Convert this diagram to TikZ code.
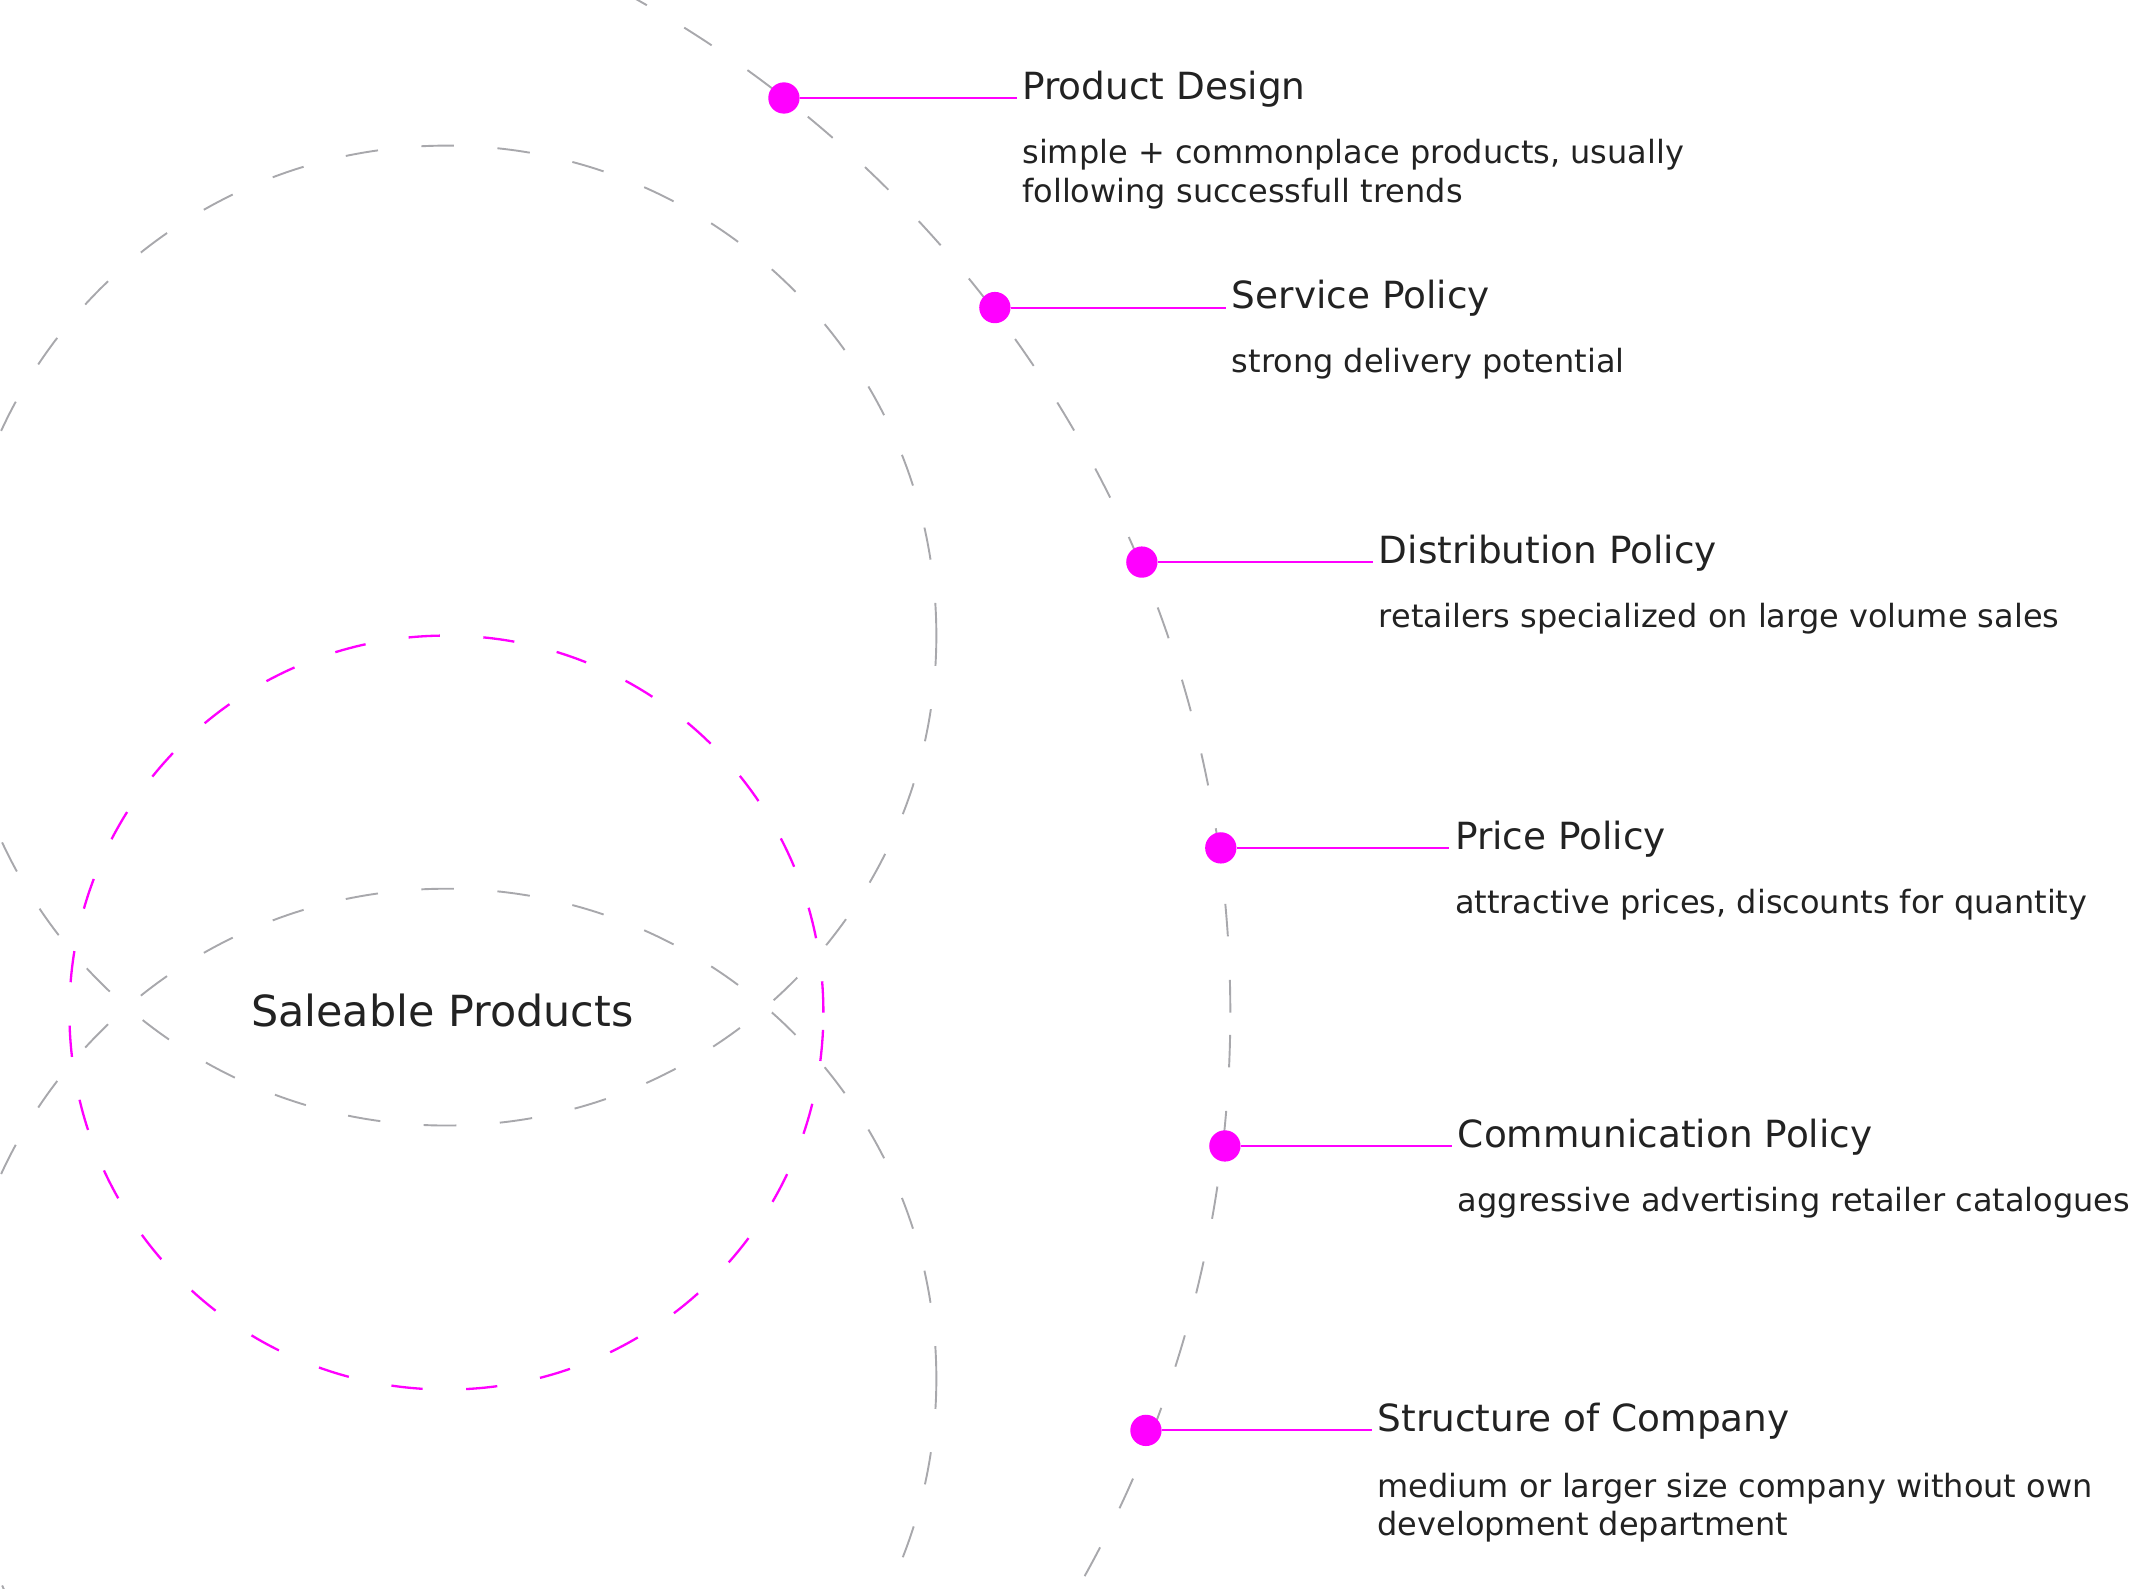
\documentclass[tikz,border=0pt]{standalone}
\usepackage{fontspec}
\setmainfont{DejaVu Sans}
\definecolor{mag}{HTML}{FF00FF}
\definecolor{guidegray}{HTML}{A8A8AC}
\definecolor{ink}{HTML}{222222}
\begin{document}
\begin{tikzpicture}[x=1pt,y=-1pt,
  guide/.style={draw=guidegray, line width=1.4pt, dash pattern=on 24pt off 32pt},
  rim/.style={draw=mag, line width=1.7pt, dash pattern=on 23pt off 32pt},
  dot/.style={circle, fill=mag, inner sep=0pt, minimum size=23pt},
  lead/.style={draw=mag, line width=1.4pt},
  ttl/.style={anchor=base west, inner xsep=4pt, inner ysep=0pt, text=ink, font=\fontsize{27.5}{33}\selectfont},
  dsc/.style={anchor=base west, inner sep=0pt, text=ink, align=left, font=\fontsize{23.5}{28.5}\selectfont},
  hub/.style={anchor=base, inner sep=0pt, text=ink, font=\fontsize{31.5}{38}\selectfont},
]
\useasboundingbox (0,0) rectangle (1568,1167);
\begin{scope}
  \clip (0,0) rectangle (1568,1167);
  \draw[guide] (328,467) circle[radius=360pt];
  \draw[guide] (328,1013) circle[radius=360pt];
  \draw[guide] (51,744) circle[radius=853pt];
  \draw[rim] (328,744) circle[radius=277pt];
\end{scope}

\node[hub] (sp) at (325,754) {Saleable Products};

% dots
\node[dot] (d1) at (576,72) {};
\node[dot] (d2) at (731,226) {};
\node[dot] (d3) at (839,413) {};
\node[dot] (d4) at (897,623) {};
\node[dot] (d5) at (900,842) {};
\node[dot] (d6) at (842,1051) {};

% titles
\node[ttl] (t1) at (747,73) {Product Design};
\node[ttl] (t2) at (901,227) {Service Policy};
\node[ttl] (t3) at (1009,414) {Distribution Policy};
\node[ttl] (t4) at (1065,624) {Price Policy};
\node[ttl] (t5) at (1067,843) {Communication Policy};
\node[ttl] (t6) at (1008,1052) {Structure of Company};

% leads
\draw[lead] (d1) -- (d1 -| t1.west);
\draw[lead] (d2) -- (d2 -| t2.west);
\draw[lead] (d3) -- (d3 -| t3.west);
\draw[lead] (d4) -- (d4 -| t4.west);
\draw[lead] (d5) -- (d5 -| t5.west);
\draw[lead] (d6) -- (d6 -| t6.west);

% descriptions (multi-line nodes: base = last line's baseline)
\node[dsc] (s1) at (751,148.5) {simple + commonplace products, usually\\following successfull trends};
\node[dsc] (s2) at (905,274) {strong delivery potential};
\node[dsc] (s3) at (1013,461) {retailers specialized on large volume sales};
\node[dsc] (s4) at (1069,671) {attractive prices, discounts for quantity};
\node[dsc] (s5) at (1071,890) {aggressive advertising retailer catalogues};
\node[dsc] (s6) at (1012,1128.5) {medium or larger size company without own\\development department};
\end{tikzpicture}
\end{document}
